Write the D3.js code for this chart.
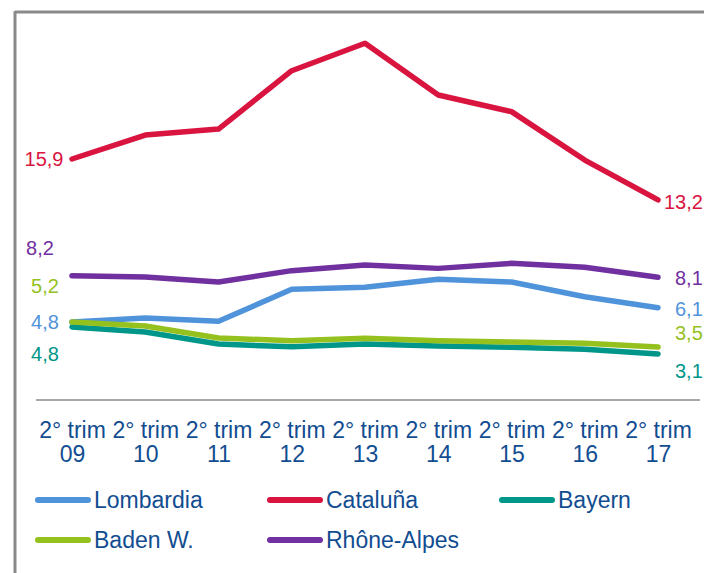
<!DOCTYPE html>
<html><head><meta charset="utf-8">
<script src="https://cdn.jsdelivr.net/npm/d3@7"></script>
<style>
html,body{margin:0;padding:0;background:#fff;}
svg{display:block;font-family:"Liberation Sans",Arial,sans-serif;}
</style></head>
<body><svg id="c" width="704" height="573"></svg>
<script>
const categories = ["09","10","11","12","13","14","15","16","17"];
const tickPrefix = "2° trim";
const seriesNames = ["Lombardia","Cataluña","Bayern","Baden W.","Rhône-Alpes"];
const lombardia = [5.15,5.42,5.2,7.31,7.44,7.97,7.79,6.82,6.1];
const cataluna  = [15.9,17.48,17.87,21.72,23.53,20.12,19.02,15.83,13.2];
const bayern    = [4.83,4.5,3.7,3.52,3.7,3.57,3.49,3.36,3.05];
const badenW    = [5.15,4.89,4.1,3.92,4.08,3.92,3.84,3.75,3.5];
const rhoneAlpes= [8.2,8.12,7.79,8.54,8.91,8.69,9.02,8.76,8.1];
const startLabels = ["4,8","15,9","4,8","5,2","8,2"];
const endLabels   = ["6,1","13,2","3,1","3,5","8,1"];
const colors = ["#4f93db","#d8143f","#00968a","#95c11f","#7030a0"];

const values = [lombardia,cataluna,bayern,badenW,rhoneAlpes];
const series = seriesNames.map((n,i)=>({name:n,values:values[i],start:startLabels[i],end:endLabels[i],color:colors[i]}));

const svg = d3.select("#c");
const x = d3.scalePoint().domain(categories).range([72,658]);
const y = d3.scaleLinear().domain([0,26]).range([400.2,400.2-26*15.17]);

// frame
svg.append("line").attr("x1",15).attr("x2",704).attr("y1",12).attr("y2",12).attr("stroke","#8a8a8a").attr("stroke-width",3);
svg.append("line").attr("x1",15).attr("x2",15).attr("y1",11).attr("y2",573).attr("stroke","#8a8a8a").attr("stroke-width",3);

// x axis
const xAxis = d3.axisBottom(x).tickSize(0).tickPadding(0).tickFormat(()=> "");
const ax = svg.append("g").attr("transform","translate(0,400)").call(xAxis);
ax.select(".domain").remove();
svg.append("line").attr("x1",36).attr("x2",700).attr("y1",400).attr("y2",400).attr("stroke","#8a8a8a").attr("stroke-width",1.5);
ax.selectAll(".tick").each(function(d){
  const t = d3.select(this).append("text").attr("fill","#124d91").attr("font-size",23).attr("text-anchor","middle");
  t.append("tspan").attr("x",0).attr("y",38).text(tickPrefix);
  t.append("tspan").attr("x",0).attr("y",62).text(d);
});

const line = d3.line().x((d,i)=>x(categories[i])).y(d=>y(d));
series.forEach(s=>{
  svg.append("path").datum(s.values).attr("d",line).attr("fill","none")
    .attr("stroke",s.color).attr("stroke-width",5.5).attr("stroke-linejoin","round").attr("stroke-linecap","round");
});

// value labels (offsets are layout only)
const startOff = [[45,0],[44,0],[45,27],[45,-36],[40,-28]];
const endOff   = [[675,1],[664,2],[675,17],[675,-14],[675,1]];
series.forEach((s,i)=>{
  const y0 = y(s.values[0]), y1 = y(s.values[s.values.length-1]);
  svg.append("text").attr("x",startOff[i][0]).attr("y",y0+startOff[i][1]).attr("dy","0.35em")
    .attr("text-anchor","middle").attr("font-size",20).attr("fill",s.color).text(s.start);
  svg.append("text").attr("x",endOff[i][0]).attr("y",y1+endOff[i][1]).attr("dy","0.35em")
    .attr("text-anchor","start").attr("font-size",20).attr("fill",s.color).text(s.end);
});

// legend
const legPos = [[36,500],[268,500],[500,500],[36,540],[268,540]];
series.forEach((s,i)=>{
  const g = svg.append("g").attr("transform",`translate(${legPos[i][0]},${legPos[i][1]})`);
  g.append("line").attr("x1",2).attr("x2",52).attr("y1",0).attr("y2",0).attr("stroke",s.color).attr("stroke-width",6).attr("stroke-linecap","round");
  g.append("text").attr("x",58).attr("y",0).attr("dy","0.35em").attr("font-size",23).attr("fill","#124d91").text(s.name);
});
</script></body></html>
